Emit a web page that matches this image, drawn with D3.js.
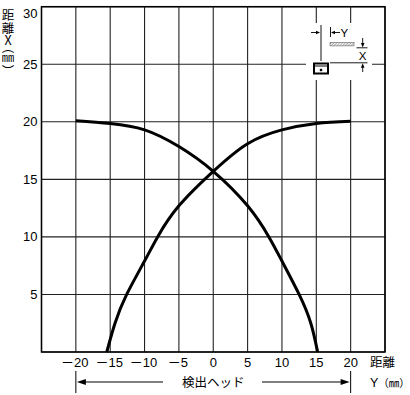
<!DOCTYPE html>
<html>
<head>
<meta charset="utf-8">
<script src="https://cdn.jsdelivr.net/npm/d3@7"></script>
<style>
  body { margin: 0; background: #fff; }
  svg { display: block; font-family: "Liberation Sans", Arial, sans-serif; }
  .jp { font-family: "Noto Sans CJK JP", sans-serif; }
</style>
</head>
<body>
<svg id="chart" width="410" height="395"></svg>
<script>
// distance Y (mm) ticks and distance X (mm) ticks
const yTicks = [-20, -15, -10, -5, 0, 5, 10, 15, 20];
const xTicks = [5, 10, 15, 20, 25, 30];
const gridY = [-25, -20, -15, -10, -5, 0, 5, 10, 15, 20, 25];
const gridX = [0, 5, 10, 15, 20, 25, 30];

// curve falling from left (Y, X)
const fallY = [-20, -15, -10, -5, 0, 5, 8.1, 10, 12.5, 14.2, 15.2];
const fallX = [20.1, 19.85, 19.3, 17.85, 15.7, 12.7, 10, 7.9, 5, 2.5, 0];
// curve rising to right
const riseY = [-15.5, -14.3, -12.6, -10, -8.1, -5, 0, 5, 10, 15, 20];
const riseX = [0, 2.5, 5, 7.9, 10, 12.7, 15.7, 18.1, 19.3, 19.86, 20.05];

const svg = d3.select('#chart');
const margin = { top: 6.7, right: 25, bottom: 43, left: 41.5 };
const width = 410, height = 395;

const x = d3.scaleLinear().domain([-25, 25]).range([margin.left, width - margin.right]);
const y = d3.scaleLinear().domain([0, 30]).range([height - margin.bottom, margin.top]);

// grid
svg.append('g').selectAll('line').data(gridY).enter().append('line')
  .attr('x1', d => x(d)).attr('x2', d => x(d))
  .attr('y1', y(0)).attr('y2', y(30))
  .attr('stroke', '#222').attr('stroke-width', 1.1);
svg.append('g').selectAll('line').data(gridX).enter().append('line')
  .attr('x1', x(-25)).attr('x2', x(25))
  .attr('y1', d => y(d)).attr('y2', d => y(d))
  .attr('stroke', '#222').attr('stroke-width', 1.1);

// white area for the inset
svg.append('rect').attr('x', 306).attr('y', 23).attr('width', 66).attr('height', 57).attr('fill', '#fff');

// border
svg.append('rect')
  .attr('x', x(-25)).attr('y', y(30))
  .attr('width', x(25) - x(-25)).attr('height', y(0) - y(30))
  .attr('fill', 'none').attr('stroke', '#000').attr('stroke-width', 1.5);

// curves
const line = d3.line().curve(d3.curveNatural).x(d => x(d[0])).y(d => y(d[1]));
[d3.zip(fallY, fallX), d3.zip(riseY, riseX)].forEach(pts => {
  svg.append('path').datum(pts).attr('d', line)
    .attr('fill', 'none').attr('stroke', '#000').attr('stroke-width', 3);
});

// y tick labels
svg.append('g').selectAll('text').data(xTicks).enter().append('text')
  .attr('x', x(-25) - 4).attr('y', d => Math.max(y(d), 13))
  .attr('dy', '0.35em').attr('text-anchor', 'end')
  .attr('font-size', 13).text(d => d);

// x tick labels
const xl = svg.append('g').selectAll('text').data(yTicks).enter().append('text')
  .attr('x', d => x(d) - (d < 0 ? 1 : 0)).attr('y', 362).attr('dy', '0.35em')
  .attr('text-anchor', 'middle').attr('font-size', 13);
xl.filter(d => d < 0).append('tspan').attr('class', 'jp').text('－');
xl.append('tspan').text(d => Math.abs(d));

// vertical axis title
svg.append('text').attr('class', 'jp')
  .attr('x', 8).attr('y', 9)
  .attr('font-size', 12.5)
  .style('writing-mode', 'vertical-rl')
  .style('text-orientation', 'upright')
  .style('font-feature-settings', '"vpal"')
  .text('距離X（㎜）');

// horizontal axis title
svg.append('text').attr('class', 'jp').attr('x', 370).attr('y', 363).attr('dy', '0.35em')
  .attr('font-size', 12.5).text('距離');
const yt = svg.append('text').attr('x', 370).attr('y', 383).attr('dy', '0.35em').attr('font-size', 12.5);
yt.append('tspan').text('Y');
yt.append('tspan').attr('class', 'jp').attr('font-size', 10.5).text('（㎜）');

// sensing head span
const hy = 382;
const hl = x(-20), hr = x(20);
svg.append('line').attr('x1', hl).attr('x2', hl).attr('y1', 371).attr('y2', 393).attr('stroke', '#000');
svg.append('line').attr('x1', hr).attr('x2', hr).attr('y1', 371).attr('y2', 393).attr('stroke', '#000');
svg.append('line').attr('x1', hl + 8).attr('x2', 163).attr('y1', hy).attr('y2', hy).attr('stroke', '#000');
svg.append('line').attr('x1', 262).attr('x2', hr - 8).attr('y1', hy).attr('y2', hy).attr('stroke', '#000');
svg.append('path').attr('d', `M${hl + 1},${hy} l9,-3 v6 z`).attr('fill', '#000');
svg.append('path').attr('d', `M${hr - 1},${hy} l-9,-3 v6 z`).attr('fill', '#000');
svg.append('text').attr('class', 'jp').attr('x', x(0)).attr('y', hy + 1).attr('dy', '0.35em')
  .attr('text-anchor', 'middle').attr('font-size', 12.5).text('検出ヘッド');

// inset diagram
const g = svg.append('g');
const defs = svg.append('defs');
defs.append('pattern').attr('id', 'hatch').attr('width', 2).attr('height', 2)
  .attr('patternUnits', 'userSpaceOnUse').attr('patternTransform', 'rotate(45)')
  .append('line').attr('x1', 0).attr('y1', 0).attr('x2', 0).attr('y2', 2)
  .attr('stroke', '#555').attr('stroke-width', 1);
g.append('line').attr('x1', 321).attr('x2', 321).attr('y1', 25).attr('y2', 61)
  .attr('stroke', '#888').attr('stroke-width', 2);
g.append('line').attr('x1', 311).attr('x2', 316).attr('y1', 32.5).attr('y2', 32.5).attr('stroke', '#000').attr('stroke-width', 0.9);
g.append('path').attr('d', 'M320,32.5 l-4,-1.8 v3.6 z').attr('fill', '#000');
g.append('line').attr('x1', 330.5).attr('x2', 330.5).attr('y1', 27).attr('y2', 37).attr('stroke', '#000').attr('stroke-width', 0.9);
g.append('line').attr('x1', 335).attr('x2', 340).attr('y1', 32.5).attr('y2', 32.5).attr('stroke', '#000').attr('stroke-width', 0.9);
g.append('path').attr('d', 'M331,32.5 l4,-1.8 v3.6 z').attr('fill', '#000');
g.append('text').attr('x', 340.5).attr('y', 32.5).attr('dy', '0.35em').attr('font-size', 11.5).text('Y');
g.append('rect').attr('x', 330).attr('y', 42.3).attr('width', 24).attr('height', 3.6)
  .attr('fill', 'url(#hatch)').attr('stroke', '#666').attr('stroke-width', 0.6);
g.append('line').attr('x1', 356.5).attr('x2', 367.5).attr('y1', 47.8).attr('y2', 47.8).attr('stroke', '#000').attr('stroke-width', 0.9);
g.append('line').attr('x1', 362.7).attr('x2', 362.7).attr('y1', 38).attr('y2', 43).attr('stroke', '#000').attr('stroke-width', 0.9);
g.append('path').attr('d', 'M362.7,47.5 l-1.8,-4.5 h3.6 z').attr('fill', '#000');
g.append('text').attr('x', 362.7).attr('y', 55.5).attr('dy', '0.35em').attr('text-anchor', 'middle').attr('font-size', 11.5).text('X');
g.append('line').attr('x1', 330).attr('x2', 367.5).attr('y1', 62.8).attr('y2', 62.8).attr('stroke', '#000').attr('stroke-width', 0.9);
g.append('path').attr('d', 'M362.7,63.2 l-1.8,4.5 h3.6 z').attr('fill', '#000');
g.append('line').attr('x1', 362.7).attr('x2', 362.7).attr('y1', 67).attr('y2', 72).attr('stroke', '#000').attr('stroke-width', 0.9);
g.append('rect').attr('x', 314).attr('y', 63.5).attr('width', 14).attr('height', 10)
  .attr('fill', '#fff').attr('stroke', '#000').attr('stroke-width', 2);
g.append('line').attr('x1', 314).attr('x2', 328).attr('y1', 66).attr('y2', 66).attr('stroke', '#000').attr('stroke-width', 1);
g.append('rect').attr('x', 319.8).attr('y', 68.8).attr('width', 2.4).attr('height', 2.4).attr('fill', '#000');
</script>
</body>
</html>
